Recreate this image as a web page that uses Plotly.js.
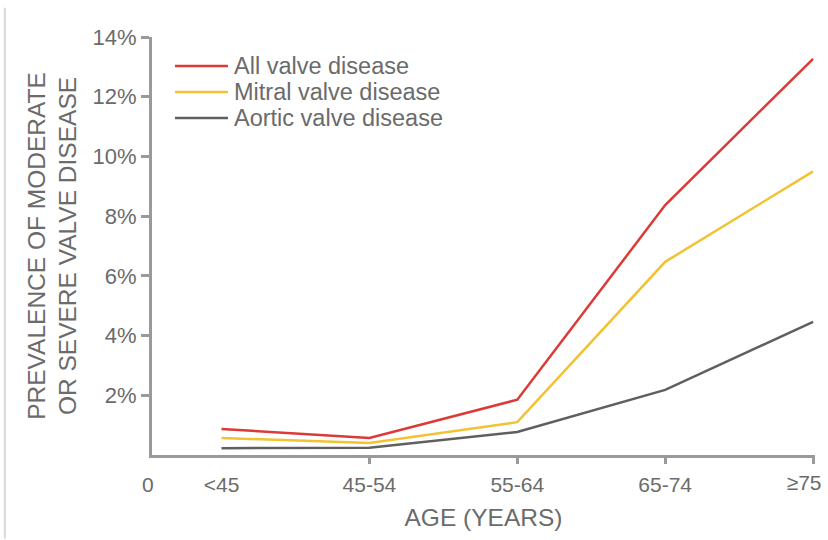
<!DOCTYPE html>
<html>
<head>
<meta charset="utf-8">
<script src="https://cdn.plot.ly/plotly-3.0.1.min.js"></script>
<style>html,body{margin:0;padding:0;background:#fff;}#chart{width:828px;height:540px;}</style>
</head>
<body>
<div id="chart"></div>
<script>
const ageGroups = ["<45", "45-54", "55-64", "65-74", "≥75"];
const allValve = [0.87, 0.57, 1.85, 8.37, 13.27];
const mitralValve = [0.57, 0.40, 1.10, 6.47, 9.50];
const aorticValve = [0.23, 0.24, 0.77, 2.18, 4.46];
const seriesNames = ["All valve disease", "Mitral valve disease", "Aortic valve disease"];
const seriesColors = ["#dc3a36", "#f2c232", "#5f5f5f"];
const yTickVals = [2, 4, 6, 8, 10, 12, 14];
const yTickText = ["2%", "4%", "6%", "8%", "10%", "12%", "14%"];

const xIdx = ageGroups.map((_, i) => i);
const lastI = ageGroups.length - 1;
const allSeries = [allValve, mitralValve, aorticValve];
const traces = allSeries.map((vals, k) => ({
  type: "scatter", mode: "lines", x: xIdx, y: vals, name: seriesNames[k],
  line: {color: seriesColors[k], width: 2.5}, hoverinfo: "skip", showlegend: false
}));
// invisible trace on xaxis2 so the overlay axis (tick marks + last label) renders
traces.push({type: "scatter", mode: "lines", x: xIdx, y: aorticValve, xaxis: "x2",
  line: {width: 0, color: "rgba(0,0,0,0)"}, showlegend: false, hoverinfo: "skip"});

const txt = "#6b6b6b";
const axCol = "#9a9a9a";
const fam = "Liberation Sans, Arial, sans-serif";

// legend drawn as paper-positioned swatches + labels (compact row spacing as in the original)
const legX0 = (175 - 152) / 663, legX1 = (228 - 152) / 663, legTx = (232 - 152) / 663;
const legRows = [66, 92, 118].map(y => (455 - y) / 418);
const legendShapes = seriesNames.map((n, k) => ({
  type: "line", xref: "paper", yref: "paper", x0: legX0, x1: legX1, y0: legRows[k], y1: legRows[k],
  line: {color: seriesColors[k], width: 2.5}
}));
const legendLabels = seriesNames.map((n, k) => ({
  text: n, xref: "paper", yref: "paper", x: legTx, y: legRows[k], xanchor: "left", yanchor: "middle",
  showarrow: false, font: {size: 23.5, color: txt, family: fam}
}));

const layout = {
  width: 828, height: 540,
  margin: {l: 152, r: 13, t: 37, b: 85},
  paper_bgcolor: "#fff", plot_bgcolor: "#fff",
  font: {family: fam, color: txt, size: 20},
  showlegend: false,
  xaxis: {
    range: [-0.47, 4.013], tickvals: xIdx.slice(0, lastI), ticktext: ageGroups.slice(0, lastI),
    showline: true, linecolor: axCol, linewidth: 3, ticks: "", showgrid: false, zeroline: false,
    tickfont: {size: 21, color: txt}, ticklabelstandoff: 9,
    title: {text: "AGE (YEARS)", font: {size: 24.5, color: txt}, standoff: 14}
  },
  xaxis2: {
    overlaying: "x", matches: "x", anchor: "y", side: "bottom",
    range: [-0.47, 4.013], tickvals: xIdx.slice(1),
    ticktext: ageGroups.slice(1).map((g, i) => (i === lastI - 1 ? g : "")),
    showticklabels: true, tickfont: {size: 21, color: txt}, ticklabelshift: -9, ticklabelstandoff: 1,
    ticklabeloverflow: "allow",
    ticks: "outside", ticklen: 8, tickwidth: 3, tickcolor: axCol,
    showline: false, showgrid: false, zeroline: false
  },
  yaxis: {
    range: [0, 14], tickvals: yTickVals, ticktext: yTickText,
    showline: true, linecolor: axCol, linewidth: 3,
    ticks: "outside", ticklen: 8, tickwidth: 3, tickcolor: axCol,
    showgrid: false, zeroline: false, tickfont: {size: 22, color: txt},
    title: {text: "PREVALENCE OF MODERATE<br>OR SEVERE VALVE DISEASE", font: {size: 24.5, color: txt}, standoff: 9}
  },
  annotations: [
    {text: "0", xref: "paper", yref: "paper", x: 0, y: 0, xanchor: "center", yanchor: "top",
     xshift: -4, yshift: -16, showarrow: false, font: {size: 21, color: txt}}
  ].concat(legendLabels),
  shapes: [
    {type: "line", xref: "paper", yref: "paper", x0: -0.222, x1: -0.222, y0: -0.2, y1: 1.07,
     line: {color: "#d8d8d8", width: 2}}
  ].concat(legendShapes)
};
Plotly.newPlot("chart", traces, layout, {displayModeBar: false, staticPlot: true});
</script>
</body>
</html>
